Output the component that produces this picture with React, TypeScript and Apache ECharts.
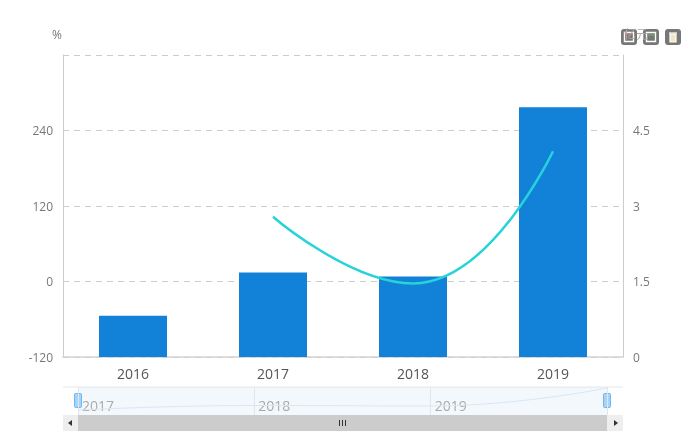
import React, { useEffect, useRef } from 'react';
import * as echarts from 'echarts';

const years = ['2016', '2017', '2018', '2019'];
const navLabels = ['2017', '2018', '2019', ''];
const amount = [0.82, 1.68, 1.6, 4.96];
const growth = [null, 103, -3, 207];
const leftTicks = [-120, 0, 120, 240, 360];
const rightTicks = [0, 1.5, 3, 4.5, 6];

const textGray = '#777';
const lineGray = '#ccc';

function toolIcon(x: number, glyph: any[]) {
  return {
    type: 'group',
    x,
    y: 29,
    children: [
      { type: 'rect', shape: { x: 0, y: 0, width: 16, height: 16, r: 3 }, style: { fill: '#777' } },
      ...glyph,
    ],
  };
}

const squareGlyph = (color: string) => [
  { type: 'rect', shape: { x: 3.5, y: 3.5, width: 9, height: 9 }, style: { fill: 'none', stroke: '#fff', lineWidth: 1.4 } },
  { type: 'line', shape: { x1: 4, y1: 6, x2: 12, y2: 6 }, style: { stroke: color, lineWidth: 1 } },
];

export default function App() {
  const chartRef = useRef<HTMLDivElement | null>(null);

  useEffect(() => {
    if (!chartRef.current) return;
    const inst = echarts.init(chartRef.current, undefined, { renderer: 'svg' });
    inst.setOption({
      animation: false,
      textStyle: { fontFamily: '"Open Sans", "Noto Sans CJK SC", sans-serif' },
      grid: [
        { left: 63, right: 62, top: 55, height: 302, containLabel: false },
        {
          left: 78,
          right: 78,
          top: 387,
          height: 28,
          show: true,
          backgroundColor: '#f3f8fc',
          borderWidth: 0,
        },
      ],
      xAxis: [
        {
          type: 'category',
          data: years,
          gridIndex: 0,
          axisLine: { onZero: false, lineStyle: { color: '#d2d2d2', width: 1.5 } },
          axisTick: { show: false },
          axisLabel: { color: '#555', fontSize: 14, margin: 9 },
        },
        {
          type: 'category',
          data: navLabels,
          gridIndex: 1,
          boundaryGap: false,
          axisLine: { show: false },
          axisTick: { show: false },
          axisLabel: {
            color: '#aaa',
            fontSize: 14,
            inside: true,
            margin: 3,
            align: 'left',
            padding: [0, 0, 0, 4],
            showMinLabel: true,
            showMaxLabel: true,
            interval: 0,
          },
          splitLine: { show: true, interval: 0, lineStyle: { color: '#e2e6ec' } },
        },
      ],
      yAxis: [
        {
          type: 'value',
          gridIndex: 0,
          name: '%',
          nameGap: 15,
          nameTextStyle: { color: textGray, fontSize: 12, padding: [0, 12, 0, 0] },
          min: leftTicks[0],
          max: leftTicks[leftTicks.length - 1],
          interval: 120,
          axisLine: { show: true, lineStyle: { color: lineGray } },
          axisTick: { show: false },
          axisLabel: { color: textGray, fontSize: 12, margin: 10, formatter: (v: number) => (v === 360 ? '' : String(v)) },
          splitLine: { lineStyle: { color: lineGray, type: [6, 5] } },
        },
        {
          type: 'value',
          gridIndex: 0,
          position: 'right',
          name: '亿元',
          nameGap: 15,
          nameTextStyle: { color: '#aaa', fontSize: 12, padding: [0, 0, 0, 26] },
          min: rightTicks[0],
          max: rightTicks[rightTicks.length - 1],
          interval: 1.5,
          axisLine: { show: true, lineStyle: { color: lineGray } },
          axisTick: { show: false },
          axisLabel: { color: textGray, fontSize: 12, margin: 10, formatter: (v: number) => (v === 6 ? '' : String(v)) },
          splitLine: { show: false },
        },
        {
          type: 'value',
          gridIndex: 1,
          min: -0.1,
          max: 5.15,
          show: false,
        },
      ],
      series: [
        {
          type: 'bar',
          name: '金额',
          data: amount,
          xAxisIndex: 0,
          yAxisIndex: 1,
          barWidth: 68,
          itemStyle: { color: '#1282d8' },
        },
        {
          type: 'line',
          name: '增长率',
          data: growth,
          xAxisIndex: 0,
          yAxisIndex: 0,
          smooth: true,
          showSymbol: false,
          lineStyle: { color: '#27d3d9', width: 2.5 },
        },
        {
          type: 'line',
          name: 'nav',
          data: amount,
          xAxisIndex: 1,
          yAxisIndex: 2,
          smooth: true,
          showSymbol: false,
          lineStyle: { color: '#dbe6f2', width: 1 },
        },
      ],
      graphic: [
        { type: 'line', shape: { x1: 63, y1: 387, x2: 623, y2: 387 }, style: { stroke: '#e2e6ec', lineWidth: 1 } },
        // range handles
        { type: 'rect', shape: { x: 74.5, y: 393.5, width: 7, height: 14, r: 1 }, style: { fill: '#a6d4f7', stroke: '#6db6ee', lineWidth: 1 } },
        { type: 'rect', shape: { x: 603.5, y: 393.5, width: 7, height: 14, r: 1 }, style: { fill: '#a6d4f7', stroke: '#6db6ee', lineWidth: 1 } },
        // scrollbar
        { type: 'rect', shape: { x: 63, y: 415, width: 560, height: 16 }, style: { fill: '#eeeeee' } },
        { type: 'rect', shape: { x: 78, y: 415, width: 529, height: 16 }, style: { fill: '#cccccc' } },
        { type: 'polygon', shape: { points: [[72, 420], [72, 426], [68, 423]] }, style: { fill: '#333' } },
        { type: 'polygon', shape: { points: [[614, 420], [614, 426], [618, 423]] }, style: { fill: '#333' } },
        { type: 'line', shape: { x1: 339.5, y1: 420, x2: 339.5, y2: 426 }, style: { stroke: '#333', lineWidth: 1 } },
        { type: 'line', shape: { x1: 342.5, y1: 420, x2: 342.5, y2: 426 }, style: { stroke: '#333', lineWidth: 1 } },
        { type: 'line', shape: { x1: 345.5, y1: 420, x2: 345.5, y2: 426 }, style: { stroke: '#333', lineWidth: 1 } },
        // toolbox
        toolIcon(621, squareGlyph('#d66')),
        toolIcon(643, squareGlyph('#6b6')),
        toolIcon(665, [
          { type: 'rect', shape: { x: 5, y: 5, width: 6, height: 8 }, style: { fill: '#f2e6c0', stroke: '#fff', lineWidth: 1.2 } },
          { type: 'line', shape: { x1: 4, y1: 4, x2: 12, y2: 4 }, style: { stroke: '#fff', lineWidth: 1.2 } },
        ]),
      ],
    });
    return () => inst.dispose();
  }, []);

  return <div ref={chartRef} style={{ position: 'fixed', left: 0, top: 0, width: 685, height: 447 }} />;
}
